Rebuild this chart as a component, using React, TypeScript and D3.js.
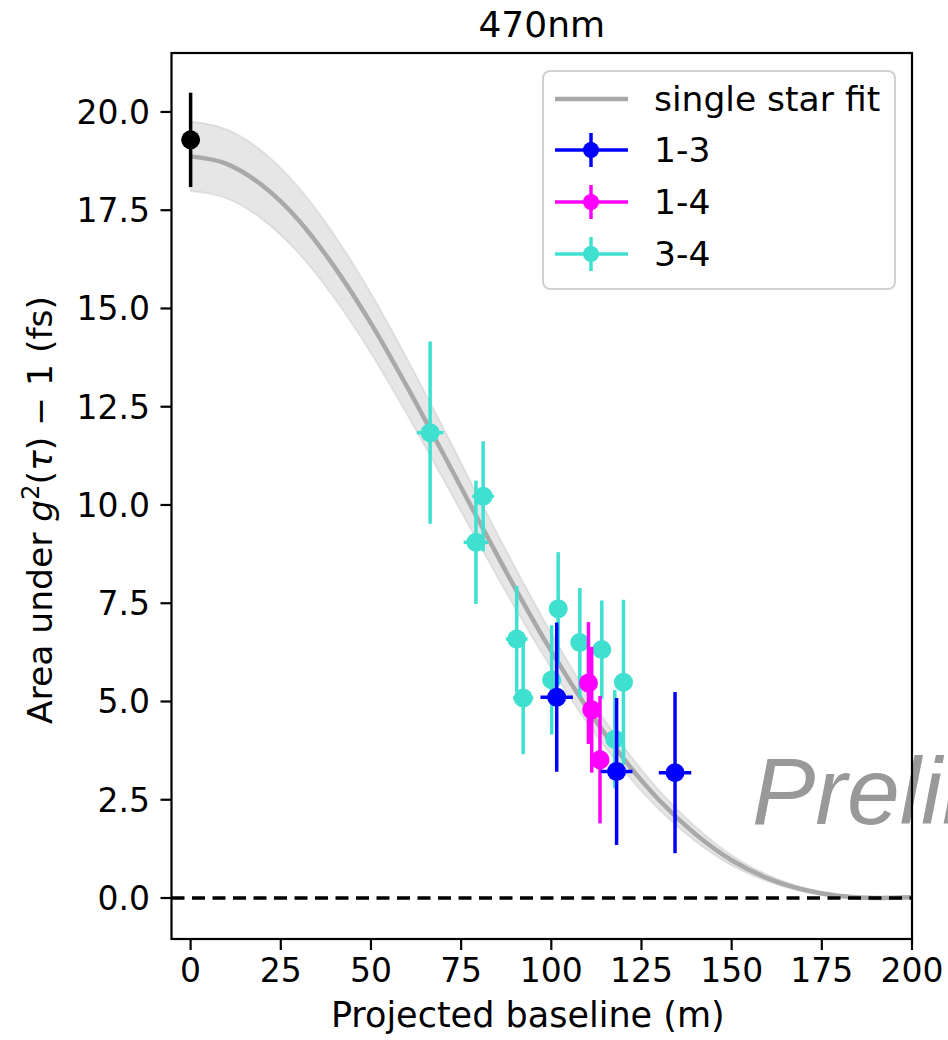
import React from "react";
import * as d3 from "d3";

// ---- data ----
const xTicks = [0, 25, 50, 75, 100, 125, 150, 175, 200];
const yTicks = [0, 2.5, 5, 7.5, 10, 12.5, 15, 17.5, 20];

const fitX = [0, 10, 20, 30, 40, 50, 60, 70, 80, 90, 100, 110, 120, 130, 140, 150, 160, 170, 180, 190, 200];
const fitY = [18.87, 18.68, 18.12, 17.24, 16.04, 14.62, 13.01, 11.31, 9.58, 7.88, 6.28, 4.82, 3.55, 2.48, 1.62, 0.96, 0.5, 0.21, 0.05, 0.0, 0.02];
const fitUpper = [19.76, 19.56, 18.99, 18.08, 16.85, 15.39, 13.73, 11.97, 10.17, 8.41, 6.74, 5.2, 3.86, 2.73, 1.81, 1.09, 0.59, 0.26, 0.07, 0.01, 0.02];
const fitLower = [17.98, 17.8, 17.26, 16.4, 15.24, 13.86, 12.3, 10.66, 9.0, 7.37, 5.84, 4.45, 3.25, 2.24, 1.44, 0.83, 0.42, 0.16, 0.03, 0.0, 0.02];

const zeroX = [0];
const zeroY = [19.29];
const zeroYerr = [1.2];

const pair13X = [101.5, 118.1, 134.3];
const pair13Y = [5.11, 3.22, 3.19];
const pair13Xerr = [4.5, 4.4, 4.5];
const pair13Yerr = [1.9, 1.87, 2.05];

const pair14X = [110.3, 111.2, 113.5];
const pair14Y = [5.47, 4.79, 3.52];
const pair14Xerr = [2.3, 2.3, 2.3];
const pair14Yerr = [1.55, 1.6, 1.62];

const pair34X = [66.4, 81.1, 79.1, 90.4, 92.2, 100.1, 101.9, 107.9, 114.0, 120.0, 117.6];
const pair34Y = [11.84, 10.22, 9.05, 6.59, 5.09, 5.55, 7.36, 6.5, 6.32, 5.49, 4.04];
const pair34Xerr = [3.7, 3.0, 3.4, 3.0, 2.8, 2.5, 2.5, 2.5, 2.5, 2.5, 2.5];
const pair34Yerr = [2.32, 1.4, 1.57, 1.35, 1.43, 1.39, 1.44, 1.39, 1.25, 2.1, 1.25];

const legendLabels = ["single star fit", "1-3", "1-4", "3-4"];
const seriesColors = ["#a9a9a9", "#0000ff", "#ff00ff", "#40e0d0"];

const W = 948;
const H = 1040;
const FONT = "'DejaVu Sans', sans-serif";

export default function App() {
  const x = d3.scaleLinear().domain([-5.3, 200]).range([171.5, 912]);
  const y = d3.scaleLinear().domain([-1.043, 21.5]).range([939, 53]);

  const area = d3
    .area<number>()
    .x((_, i) => x(fitX[i]))
    .y0((_, i) => y(fitLower[i]))
    .y1((_, i) => y(fitUpper[i]))
    .curve(d3.curveMonotoneX);
  const line = d3
    .line<number>()
    .x((_, i) => x(fitX[i]))
    .y((_, i) => y(fitY[i]))
    .curve(d3.curveMonotoneX);

  const R = 9.5;
  const LW = 3.5;

  const series = (
    xs: number[],
    ys: number[],
    xe: number[],
    ye: number[],
    color: string,
    key: string
  ) =>
    xs.map((xv, i) => (
      <g key={key + i}>
        <line x1={x(xv)} x2={x(xv)} y1={y(ys[i] - ye[i])} y2={y(ys[i] + ye[i])} stroke={color} strokeWidth={LW} />
        {xe[i] > 0 && (
          <line x1={x(xv - xe[i])} x2={x(xv + xe[i])} y1={y(ys[i])} y2={y(ys[i])} stroke={color} strokeWidth={LW} />
        )}
        <circle cx={x(xv)} cy={y(ys[i])} r={R} fill={color} />
      </g>
    ));

  const [x0, x1] = x.range();
  const [y0, y1] = y.range();

  const legendRows = [99, 150, 202, 254];

  return (
    <svg
      width={W}
      height={H}
      style={{ position: "absolute", left: 0, top: 0, background: "#fff" }}
      fontFamily={FONT}
    >
      <rect x={0} y={0} width={W} height={H} fill="#fff" />
      {/* fit band and line */}
      <path d={area(fitX) || ""} fill="#808080" fillOpacity={0.2} stroke="#808080" strokeOpacity={0.15} strokeWidth={2} />
      <path d={line(fitX) || ""} fill="none" stroke={seriesColors[0]} strokeWidth={4.5} />
      {/* zero line */}
      <line x1={x0} x2={x1} y1={y(0)} y2={y(0)} stroke="#000" strokeWidth={3.4} strokeDasharray="13 7.5" />

      {/* data */}
      {series(zeroX, zeroY, [0], zeroYerr, "#000", "z")}
      {series(pair34X, pair34Y, pair34Xerr, pair34Yerr, seriesColors[3], "c")}
      {series(pair14X, pair14Y, pair14Xerr, pair14Yerr, seriesColors[2], "m")}
      {series(pair13X, pair13Y, pair13Xerr, pair13Yerr, seriesColors[1], "b")}

      {/* watermark */}
      <text x={752} y={824} fontFamily="'Liberation Sans', Arial, sans-serif" fontStyle="italic" fontSize={95} fill="#999">
        Preliminary
      </text>

      {/* frame */}
      <rect x={x0} y={y1} width={x1 - x0} height={y0 - y1} fill="none" stroke="#000" strokeWidth={2.2} />

      {/* x ticks */}
      {xTicks.map((t) => (
        <g key={"xt" + t}>
          <line x1={x(t)} x2={x(t)} y1={y0} y2={y0 + 11} stroke="#000" strokeWidth={2.2} />
          <text x={x(t)} y={982} textAnchor="middle" fontSize={33} fill="#000">
            {String(t)}
          </text>
        </g>
      ))}
      {/* y ticks */}
      {yTicks.map((t) => (
        <g key={"yt" + t}>
          <line x1={x0} x2={x0 - 11} y1={y(t)} y2={y(t)} stroke="#000" strokeWidth={2.2} />
          <text x={150} y={y(t)} dy="0.36em" textAnchor="end" fontSize={33} fill="#000">
            {t.toFixed(1)}
          </text>
        </g>
      ))}

      {/* labels */}
      <text x={(x0 + x1) / 2 - 14} y={1027} textAnchor="middle" fontSize={35} fill="#000">
        Projected baseline (m)
      </text>
      <text transform={`translate(52,${(y0 + y1) / 2 + 14}) rotate(-90)`} textAnchor="middle" fontSize={34.5} fill="#000">
        Area under <tspan fontStyle="italic">g</tspan>
        <tspan dy={-13} fontSize={24}>2</tspan>
        <tspan dy={13}>(</tspan>
        <tspan fontStyle="italic">τ</tspan>
        <tspan>) − 1 (fs)</tspan>
      </text>
      <text x={(x0 + x1) / 2} y={37} textAnchor="middle" fontSize={36} fill="#000">
        470nm
      </text>

      {/* legend */}
      <rect x={543} y={71} width={352} height={218} rx={7} fill="#fff" fillOpacity={0.8} stroke="#d0d0d0" strokeWidth={2} />
      {legendLabels.map((lab, i) => {
        const ly = legendRows[i];
        const c = seriesColors[i];
        return (
          <g key={"lg" + i}>
            {i === 0 ? (
              <line x1={555} x2={628} y1={ly} y2={ly} stroke={c} strokeWidth={4.5} />
            ) : (
              <g>
                <line x1={555} x2={628} y1={ly} y2={ly} stroke={c} strokeWidth={LW} />
                <line x1={591} x2={591} y1={ly - 17} y2={ly + 17} stroke={c} strokeWidth={LW} />
                <circle cx={591} cy={ly} r={8} fill={c} />
              </g>
            )}
            <text x={654} y={ly} dy="0.36em" fontSize={34.5} fill="#000">
              {lab}
            </text>
          </g>
        );
      })}
    </svg>
  );
}
